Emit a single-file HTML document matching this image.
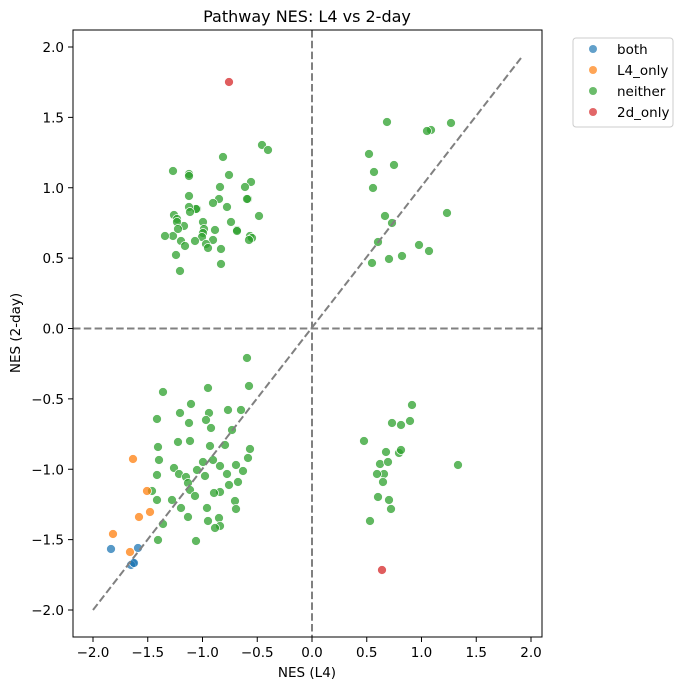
<!DOCTYPE html><html><head><meta charset="utf-8"><style>body{margin:0;background:#fff}svg{display:block;font-family:"DejaVu Sans","Liberation Sans",sans-serif}</style></head><body>
<svg id="s" width="686" height="690" xmlns="http://www.w3.org/2000/svg">
<rect width="686" height="690" fill="#fff"/>
<text x="307" y="22" font-size="16" text-anchor="middle">Pathway NES: L4 vs 2-day</text>
<g id="pts"></g>
<line x1="73" y1="328.5" x2="542" y2="328.5" stroke="#808080" stroke-width="2" stroke-dasharray="7.5,3.3"/>
<line x1="312" y1="30" x2="312" y2="637" stroke="#808080" stroke-width="2" stroke-dasharray="7.5,3.3"/>
<line x1="93" y1="610" x2="521" y2="58" stroke="#808080" stroke-width="2" stroke-dasharray="7.5,3.3"/>
<rect x="73" y="30" width="469" height="607" fill="none" stroke="#000" stroke-width="1"/>
<g id="ax" font-size="13.5" fill="#000"></g>
<text x="307" y="677" font-size="13.5" text-anchor="middle">NES (L4)</text>
<text transform="translate(20,333) rotate(-90)" font-size="13.5" text-anchor="middle">NES (2-day)</text>
<rect x="573" y="38" width="100" height="89" rx="3" fill="#fff" stroke="#ccc"/>
<g font-size="13.5">
<circle cx="593" cy="49" r="4" fill="#1f77b4" fill-opacity=".7"/><text x="617" y="54">both</text>
<circle cx="593" cy="70" r="4" fill="#ff7f0e" fill-opacity=".7"/><text x="617" y="75">L4_only</text>
<circle cx="593" cy="91" r="4" fill="#2ca02c" fill-opacity=".7"/><text x="617" y="96">neither</text>
<circle cx="593" cy="112" r="4" fill="#d62728" fill-opacity=".7"/><text x="617" y="117">2d_only</text>
</g>
</svg>
<script>
const ns="http://www.w3.org/2000/svg";
const g=document.getElementById('pts'),ax=document.getElementById('ax');
function c(x,y,col){const e=document.createElementNS(ns,'circle');e.setAttribute('cx',x);e.setAttribute('cy',y);e.setAttribute('r',4.5);e.setAttribute('fill',col);e.setAttribute('fill-opacity','0.75');e.setAttribute('stroke','#fff');e.setAttribute('stroke-width','0.7');g.appendChild(e);}
const G="#2ca02c",O="#ff7f0e",B="#1f77b4",R="#d62728";
const green=[[262,145],[268,150],[223,157],[173,171],[189,174],[189,176],[229,175],[251,182],[245,187],[220,187],[189,196],[219,199],[259,216],[213,203],[197,209],[196,209],[248,199],[247,199],[189,207],[174,215],[227,207],[190,212],[184,226],[203,222],[215,230],[231,222],[173,236],[177,219],[177,222],[237,230],[204,229],[178,229],[203,233],[202,237],[250,236],[252,238],[237,231],[213,240],[181,241],[165,236],[176,255],[195,241],[206,244],[185,246],[221,249],[208,248],[180,271],[221,264],[249,240],
[369,154],[387,122],[431,130],[451,123],[427,131],[374,172],[373,188],[394,165],[385,216],[392,223],[378,242],[372,263],[389,259],[402,256],[419,245],[429,251],[447,213],
[247,358],[163,392],[249,386],[208,388],[209,413],[191,404],[228,410],[241,410],[206,420],[189,423],[157,419],[180,413],[232,430],[211,428],[190,441],[178,442],[158,447],[210,446],[250,449],[225,445],[248,458],[213,460],[203,462],[236,465],[220,466],[174,468],[159,460],[197,470],[243,471],[205,476],[157,475],[179,474],[227,474],[186,477],[188,483],[238,482],[229,485],[190,490],[195,496],[172,500],[235,501],[220,492],[181,508],[207,508],[214,493],[236,509],[157,500],[188,517],[152,491],[219,518],[163,524],[208,521],[220,526],[196,541],[158,540],[215,528],
[364,441],[412,405],[410,421],[392,423],[399,453],[401,450],[386,452],[380,464],[384,474],[383,482],[377,474],[388,462],[389,500],[391,509],[378,497],[370,521],[458,465],[401,425]];
green.forEach(p=>c(p[0],p[1],G));
[[133,459],[147,491],[150,512],[139,517],[113,534],[130,552]].forEach(p=>c(p[0],p[1],O));
[[111,549],[138,548],[133,563],[131,565],[134,563]].forEach(p=>c(p[0],p[1],B));
[[229,82],[382,570]].forEach(p=>c(p[0],p[1],R));
function t(x,y,s,a){const e=document.createElementNS(ns,'text');e.setAttribute('x',x);e.setAttribute('y',y);e.setAttribute('text-anchor',a);e.textContent=s;ax.appendChild(e);}
function l(x1,y1,x2,y2){const e=document.createElementNS(ns,'line');e.setAttribute('x1',x1);e.setAttribute('y1',y1);e.setAttribute('x2',x2);e.setAttribute('y2',y2);e.setAttribute('stroke','#000');ax.appendChild(e);}
for(let v=-2;v<=2.001;v+=0.5){const x=312+v*109.5;l(x,637,x,642);t(x,657,(v<0?'\u2212':'')+Math.abs(v).toFixed(1),'middle');
const y=328.5-v*140.75;l(68,y,73,y);t(64,y+5,(v<0?'\u2212':'')+Math.abs(v).toFixed(1),'end');}
</script>
</body></html>
